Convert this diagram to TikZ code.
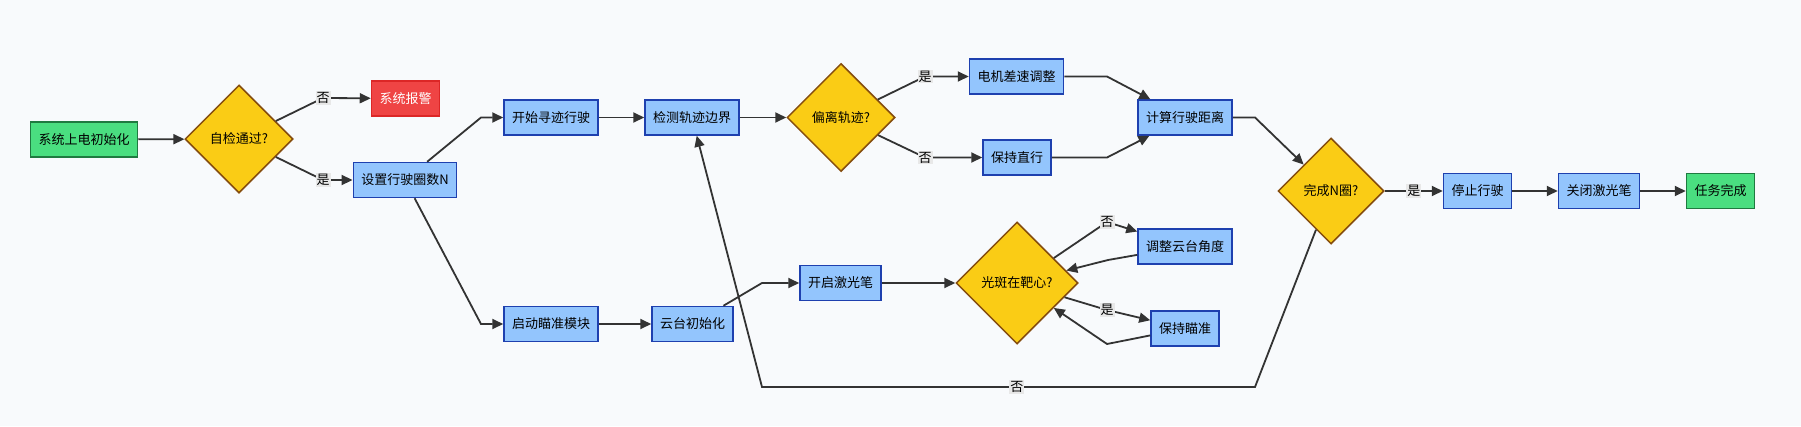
\documentclass[tikz,border=0pt]{standalone}
\usepackage{fontspec}
\setmainfont{Noto Sans CJK SC}
\usetikzlibrary{shapes.geometric,arrows.meta}
\definecolor{bgc}{HTML}{F8FAFC}
\definecolor{greenf}{HTML}{4ADE80}
\definecolor{greend}{HTML}{1F7A40}
\definecolor{bluef}{HTML}{93C5FD}
\definecolor{blued}{HTML}{1E40AF}
\definecolor{yelf}{HTML}{FACC15}
\definecolor{yeld}{HTML}{854D0E}
\definecolor{redf}{HTML}{EF4444}
\definecolor{redd}{HTML}{DC2626}
\definecolor{edgec}{HTML}{333333}
\definecolor{lblbg}{HTML}{E8E8E8}
\begin{document}
\begin{tikzpicture}[x=1pt,y=-1pt,
  txt/.style={font=\fontsize{13pt}{15pt}\selectfont, text=black},
  box/.style={txt, rectangle, draw, line width=1.5pt, minimum height=35pt, inner xsep=8pt, inner ysep=0pt},
  bluebox/.style={box, fill=bluef, draw=blued},
  greenbox/.style={box, fill=greenf, draw=greend},
  redbox/.style={box, fill=redf, draw=redd, text=white},
  dec/.style={txt, diamond, aspect=1, draw=yeld, fill=yelf, line width=1.5pt, inner sep=0pt, minimum size=108pt},
  edge/.style={draw=edgec, line width=1.8pt, -{Triangle[length=11pt,width=10pt]}},
  lbl/.style={txt, fill=lblbg, inner sep=1pt}
]
\fill[bgc] (0,0) rectangle (1801,426);
\useasboundingbox (0,0) rectangle (1801,426);

% nodes
\node[greenbox] (init) at (84,139.5) {系统上电初始化};
\node[dec] (sc) at (239,139) {自检通过?};
\node[redbox] (alarm) at (405.5,98.5) {系统报警};
\node[bluebox] (setn) at (405,180) {设置行驶圈数N};
\node[bluebox] (start) at (551,117.5) {开始寻迹行驶};
\node[bluebox] (detect) at (692,117.5) {检测轨迹边界};
\node[dec] (dev) at (841,117.5) {偏离轨迹?};
\node[bluebox] (motor) at (1016.5,76.5) {电机差速调整};
\node[bluebox] (straight) at (1017,157.5) {保持直行};
\node[bluebox] (calc) at (1185,117.5) {计算行驶距离};
\node[dec, minimum size=106pt] (donen) at (1331,191) {完成N圈?};
\node[bluebox] (stop) at (1477.5,191) {停止行驶};
\node[bluebox] (laseroff) at (1599,191) {关闭激光笔};
\node[greenbox] (finish) at (1720.5,191) {任务完成};
\node[bluebox] (aim) at (551,324) {启动瞄准模块};
\node[bluebox] (ginit) at (692.5,324) {云台初始化};
\node[bluebox] (laseron) at (840.5,283) {开启激光笔};
\node[dec, minimum size=122pt] (spot) at (1017,283) {光斑在靶心?};
\node[bluebox] (adjust) at (1185,246.5) {调整云台角度};
\node[bluebox] (keep) at (1185,328.5) {保持瞄准};

% edges
\draw[edge] (init) -- (sc);
\draw[edge] (sc) -- (323,98) node[lbl] {否} -- (alarm);
\draw[edge] (sc) -- (323,180) node[lbl] {是} -- (setn);
\draw[edge] (setn) -- (481,117.5) -- (start);
\draw[edge] (setn) -- (481,324) -- (aim);
\draw[edge] (start) -- (detect);
\draw[edge] (detect) -- (dev);
\draw[edge] (dev) -- (925,76.5) node[lbl] {是} -- (motor);
\draw[edge] (dev) -- (925,157.5) node[lbl] {否} -- (straight);
\draw[edge] (motor) -- (1107,76.5) -- (calc);
\draw[edge] (straight) -- (1107,157.5) -- (calc);
\draw[edge] (calc) -- (1255,117.5) -- (donen);
\draw[edge] (donen) -- node[lbl] {是} (stop);
\draw[edge] (stop) -- (laseroff);
\draw[edge] (laseroff) -- (finish);
\draw[edge] (donen) -- (1255,387) -- node[lbl, pos=0.483] {否} (762,387) -- (detect);
\draw[edge] (aim) -- (ginit);
\draw[edge] (ginit) -- (762,283) -- (laseron);
\draw[edge] (laseron) -- (spot);
\draw[edge] (spot) -- (1107,222) node[lbl] {否} -- (adjust);
\draw[edge] (adjust) -- (1108,260) -- (spot);
\draw[edge] (spot) -- (1107,310) node[lbl] {是} -- (keep);
\draw[edge] (keep) -- (1107,344) -- (spot);
\end{tikzpicture}
\end{document}
